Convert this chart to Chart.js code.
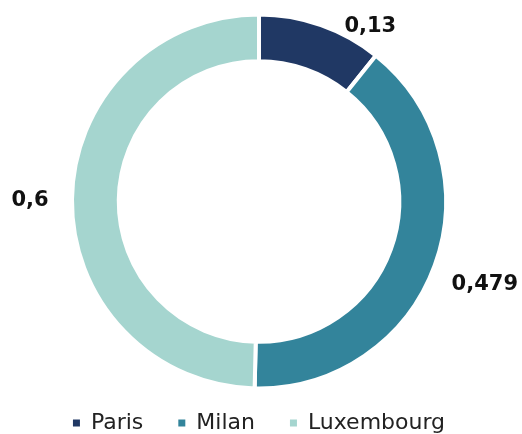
<!DOCTYPE html>
<html>
<head>
<meta charset="utf-8">
<script src="https://cdn.jsdelivr.net/npm/chart.js@4"></script>
<style>
  html, body { margin: 0; padding: 0; background: #fff; }
  #wrap { width: 522px; height: 434px; }
</style>
</head>
<body>
<div id="wrap"><canvas id="chart"></canvas></div>
<script>
// data
const cities = ["Paris", "Milan", "Luxembourg"];
const values = [0.13, 0.479, 0.6];
const valueLabels = ["0,13", "0,479", "0,6"];

const colors = ["#203864", "#33849B", "#A5D5CF"];
const FONT = "'DejaVu Sans', sans-serif";

// label nudges from the outer edge of each slice (px)
const labelNudge = [[50, 0], [52, 20], [-44, 1]];

// ----------------------
// VALUE LABELS
// ----------------------
const valueLabelPlugin = {
  id: "valueLabels",
  afterDatasetsDraw(chart) {
    const ctx = chart.ctx;
    const meta = chart.getDatasetMeta(0);
    ctx.save();
    ctx.font = "bold 21px " + FONT;
    ctx.fillStyle = "#111";
    ctx.textAlign = "center";
    ctx.textBaseline = "middle";
    meta.data.forEach((arc, i) => {
      const mid = (arc.startAngle + arc.endAngle) / 2;
      const r = arc.outerRadius - 2;
      const x = arc.x + Math.cos(mid) * r + labelNudge[i][0];
      const y = arc.y + Math.sin(mid) * r + labelNudge[i][1];
      ctx.fillText(valueLabels[i], x, y);
    });
    ctx.restore();
  }
};

new Chart(document.getElementById("chart"), {
  type: "doughnut",
  data: {
    labels: cities,
    datasets: [{
      data: values,
      backgroundColor: colors,
      borderColor: "#fff",
      borderWidth: 4
    }]
  },
  options: {
    responsive: true,
    maintainAspectRatio: false,
    animation: false,
    events: [],
    radius: 187,
    cutout: "75%",
    layout: { padding: { top: 26, right: 4, bottom: -10, left: 0 } },
    plugins: {
      tooltip: { enabled: false },
      legend: {
        position: "bottom",
        labels: {
          boxWidth: 7,
          boxHeight: 7,
          padding: 35,
          color: "#222",
          font: { family: FONT, size: 22 },
          generateLabels: (chart) =>
            cities.map((c, i) => ({
              text: c,
              fillStyle: colors[i],
              strokeStyle: colors[i],
              lineWidth: 0,
              fontColor: "#222",
              hidden: false,
              index: i
            }))
        }
      }
    }
  },
  plugins: [valueLabelPlugin]
});
</script>
</body>
</html>
